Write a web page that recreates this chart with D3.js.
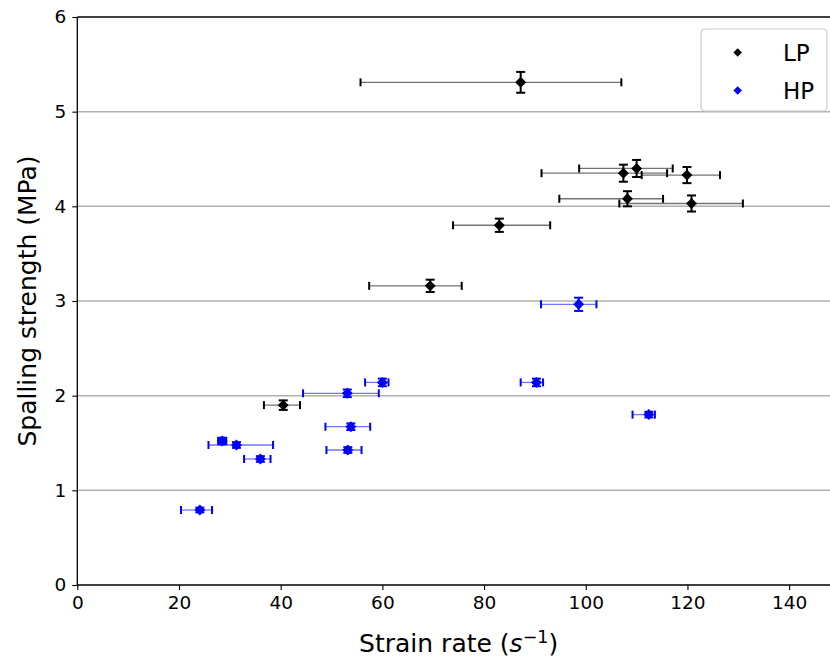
<!DOCTYPE html>
<html>
<head>
<meta charset="utf-8">
<script src="https://cdn.jsdelivr.net/npm/d3@7"></script>
<style>
    body { margin: 0; background: #fff; }
    svg { font-family: "DejaVu Sans", sans-serif; }
</style>
</head>
<body>
<svg id="drawing_region"></svg>
<script>
// LP series (black)
const lp_rate   = [87.2, 110.0, 107.4, 119.9, 108.2, 120.8, 83.0, 69.4, 40.5];
const lp_stress = [5.31, 4.40, 4.35, 4.33, 4.08, 4.03, 3.80, 3.16, 1.90];
const lp_rate_lo = [55.7, 98.7, 91.3, 111.0, 94.8, 106.6, 73.9, 57.4, 36.7];
const lp_rate_hi = [107.0, 117.1, 116.0, 126.4, 115.2, 130.9, 93.0, 75.6, 43.8];
const lp_stress_err = [0.11, 0.09, 0.09, 0.085, 0.08, 0.085, 0.07, 0.065, 0.05];

// HP series (blue)
const hp_rate   = [98.6, 90.3, 60.0, 53.1, 112.4, 53.8, 28.5, 31.3, 53.2, 36.0, 24.1];
const hp_stress = [2.965, 2.14, 2.14, 2.025, 1.80, 1.672, 1.521, 1.479, 1.426, 1.331, 0.792];
const hp_rate_lo = [91.2, 87.2, 56.6, 44.4, 109.2, 48.8, 27.7, 25.8, 49.0, 32.8, 20.4];
const hp_rate_hi = [102.1, 91.6, 61.2, 59.3, 113.6, 57.6, 29.3, 38.5, 55.9, 38.0, 26.5];
const hp_stress_err = [0.07, 0.04, 0.04, 0.04, 0.03, 0.035, 0.035, 0.03, 0.03, 0.03, 0.025];

const x_ticks = [0, 20, 40, 60, 80, 100, 120, 140];
const y_ticks = [0, 1, 2, 3, 4, 5, 6];
const series_names = ['LP', 'HP'];
const series_colors = ['#000000', '#0000ff'];

const config = {
    width: 830,
    height: 659,
    margin: {top: 17, right: -10, bottom: 74, left: 77.3}
};

const svg = d3.select('#drawing_region')
    .attr('width', config.width)
    .attr('height', config.height);

const inner_width = config.width - config.margin.left - config.margin.right;
const inner_height = config.height - config.margin.top - config.margin.bottom;

const chart = svg.append('g')
    .attr('transform', `translate(${config.margin.left}, ${config.margin.top})`);

const xscale = d3.scaleLinear().domain([0, 150]).range([0, inner_width]);
const yscale = d3.scaleLinear().domain([0, 6]).range([inner_height, 0]);

// horizontal grid
chart.append('g')
    .selectAll('line')
    .data(y_ticks.slice(1, -1))
    .join('line')
    .attr('x1', 0).attr('x2', inner_width)
    .attr('y1', d => yscale(d)).attr('y2', d => yscale(d))
    .attr('stroke', '#b0b0b0')
    .attr('stroke-width', 1.5);

function build(rate, stress, lo, hi, err) {
    return rate.map((r, i) => ({x: r, y: stress[i], lo: lo[i], hi: hi[i], e: err[i]}));
}
const lp_data = build(lp_rate, lp_stress, lp_rate_lo, lp_rate_hi, lp_stress_err);
const hp_data = build(hp_rate, hp_stress, hp_rate_lo, hp_rate_hi, hp_stress_err);

const diamond = d3.symbol().type(d3.symbolSquare).size(60);

function drawSeries(data, color) {
    const g = chart.append('g');
    const pts = g.selectAll('g').data(data).join('g');

    // x error line
    pts.append('line')
        .attr('x1', d => xscale(d.lo)).attr('x2', d => xscale(d.hi))
        .attr('y1', d => yscale(d.y)).attr('y2', d => yscale(d.y))
        .attr('stroke', color).attr('stroke-opacity', 0.55)
        .attr('stroke-width', 1.3);
    // x error caps
    ['lo', 'hi'].forEach(k => {
        pts.append('line')
            .attr('x1', d => xscale(d[k])).attr('x2', d => xscale(d[k]))
            .attr('y1', d => yscale(d.y) - 4).attr('y2', d => yscale(d.y) + 4)
            .attr('stroke', color).attr('stroke-width', 2);
    });
    // y error line + caps
    pts.append('line')
        .attr('x1', d => xscale(d.x)).attr('x2', d => xscale(d.x))
        .attr('y1', d => yscale(d.y - d.e)).attr('y2', d => yscale(d.y + d.e))
        .attr('stroke', color).attr('stroke-width', 2);
    [-1, 1].forEach(s => {
        pts.append('line')
            .attr('x1', d => xscale(d.x) - 4.5).attr('x2', d => xscale(d.x) + 4.5)
            .attr('y1', d => yscale(d.y + s * d.e)).attr('y2', d => yscale(d.y + s * d.e))
            .attr('stroke', color).attr('stroke-width', 2);
    });
    // diamond markers
    pts.append('path')
        .attr('d', diamond)
        .attr('transform', d => `translate(${xscale(d.x)}, ${yscale(d.y)}) rotate(45)`)
        .attr('fill', color);
}

drawSeries(lp_data, series_colors[0]);
drawSeries(hp_data, series_colors[1]);

// axes
const xaxis = d3.axisBottom(xscale).tickValues(x_ticks).tickSize(5).tickPadding(6)
    .tickFormat(d3.format('d'));
const yaxis = d3.axisLeft(yscale).tickValues(y_ticks).tickSize(5).tickPadding(6)
    .tickFormat(d3.format('d'));

const xaxis_group = chart.append('g')
    .attr('transform', `translate(0, ${inner_height})`)
    .call(xaxis);
const yaxis_group = chart.append('g').call(yaxis);

[xaxis_group, yaxis_group].forEach(g => {
    g.select('.domain').remove();
    g.selectAll('.tick line').attr('stroke', '#000').attr('stroke-width', 1.1);
    g.selectAll('.tick text')
        .attr('fill', '#000')
        .style('font-size', '18.5px')
        .style('font-family', '"DejaVu Sans", sans-serif');
});

// spines (left, bottom, top)
chart.append('line').attr('x1', 0).attr('x2', 0).attr('y1', 0).attr('y2', inner_height)
    .attr('stroke', '#000').attr('stroke-width', 1.3);
chart.append('line').attr('x1', 0).attr('x2', inner_width).attr('y1', inner_height).attr('y2', inner_height)
    .attr('stroke', '#000').attr('stroke-width', 1.3);
chart.append('line').attr('x1', 0).attr('x2', inner_width).attr('y1', 0).attr('y2', 0)
    .attr('stroke', '#000').attr('stroke-width', 1.3);

// axis labels
const xlabel = svg.append('text')
    .attr('x', config.margin.left + inner_width / 2)
    .attr('y', 652)
    .attr('text-anchor', 'middle')
    .style('font-size', '25px');
xlabel.append('tspan').text('Strain rate (');
xlabel.append('tspan').style('font-style', 'italic').text('s');
xlabel.append('tspan').attr('dy', -9).style('font-size', '17.5px').text('\u22121');
xlabel.append('tspan').attr('dy', 9).text(')');

svg.append('text')
    .attr('transform', `translate(36, ${config.margin.top + inner_height / 2}) rotate(-90)`)
    .attr('text-anchor', 'middle')
    .style('font-size', '25px')
    .text('Spalling strength (MPa)');

// legend
const legend = svg.append('g').attr('transform', 'translate(701, 29)');
legend.append('rect')
    .attr('width', 126).attr('height', 82)
    .attr('rx', 4)
    .attr('fill', '#fff').attr('fill-opacity', 0.8)
    .attr('stroke', '#cccccc').attr('stroke-width', 1.2);
const legend_item = legend.selectAll('.item')
    .data(series_names)
    .join('g')
    .attr('class', 'item')
    .attr('transform', (d, i) => `translate(0, ${23.5 + i * 38})`);
legend_item.append('path')
    .attr('d', d3.symbol().type(d3.symbolSquare).size(36))
    .attr('transform', 'translate(36.7, 0) rotate(45)')
    .attr('fill', (d, i) => series_colors[i]);
legend_item.append('text')
    .attr('x', 82)
    .attr('y', 8.5)
    .style('font-size', '23px')
    .text(d => d);
</script>
</body>
</html>
